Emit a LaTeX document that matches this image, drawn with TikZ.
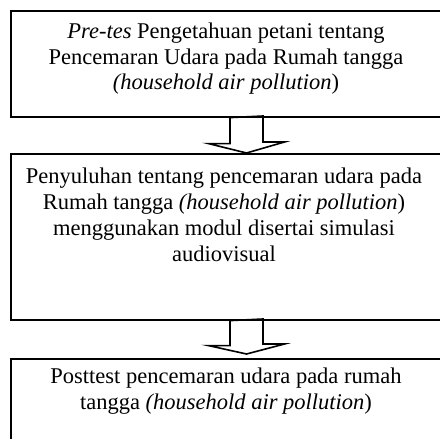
\documentclass[tikz,border=0pt]{standalone}
\usepackage{fontspec}
\setmainfont{Liberation Serif}
\usetikzlibrary{calc}
\begin{document}
\begin{tikzpicture}[x=1pt,y=-1pt,
  boxstyle/.style={draw,line width=1.6pt,inner sep=0pt,anchor=north west,minimum width=440pt},
  txt/.style={align=center,inner sep=0pt,anchor=north,font=\fontsize{22.5}{25.8}\selectfont},
  blockarrow/.style={draw,line width=1.6pt,line join=miter}]
\useasboundingbox (0,0) rectangle (440,439);
\clip (0,0) rectangle (440,439);
\node[boxstyle,minimum height=106pt] (b1) at (10,10) {};
\node[boxstyle,minimum height=166pt] (b2) at (10,153) {};
\node[boxstyle,minimum height=102pt] (b3) at (10,358) {};
\coordinate (ax) at (246.5,0);
\node[txt] (t1) at (226,22.5) {\textit{Pre-tes} Pengetahuan petani tentang\\Pencemaran Udara pada Rumah tangga\\\textit{(household air pollution})};
\node[txt] (t2) at (224,168) {Penyuluhan tentang pencemaran udara pada\\Rumah tangga \textit{(household air pollution})\\menggunakan modul disertai simulasi\\audiovisual};
\node[txt] (t3) at (226,368) {Posttest pencemaran udara pada rumah\\tangga \textit{(household air pollution})};
\draw[blockarrow] ($(b1.south -| ax)+(-16.5,0)$) -- ++(0,26) -- ++(-21.5,0) -- (b2.north -| ax) -- ++(38,-11) -- ++(-21.5,0) -- ++(0,-26) -- cycle;
\draw[blockarrow] ($(b2.south -| ax)+(-16.5,0)$) -- ++(0,25) -- ++(-21.5,0) -- ($(b3.north -| ax)+(0,-4)$) -- ++(38,-10) -- ++(-21.5,0) -- ++(0,-25) -- cycle;
\end{tikzpicture}
\end{document}
